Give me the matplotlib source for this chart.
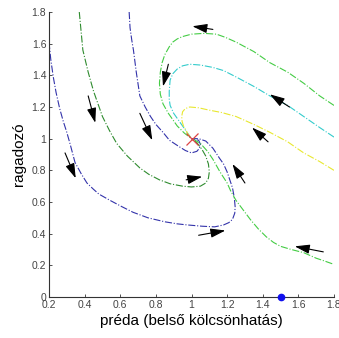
import matplotlib
matplotlib.use("Agg")
import matplotlib.pyplot as plt

plt.rcParams['font.family'] = ['Liberation Sans', 'DejaVu Sans']

# ---- data ----
blue1_x = [0.20, 0.21, 0.224, 0.24, 0.26, 0.28, 0.30, 0.32, 0.346, 0.38, 0.413, 0.45, 0.48, 0.543, 0.61, 0.672,
           0.756, 0.85, 0.92, 0.978, 1.06, 1.13, 1.18, 1.21, 1.23, 1.243, 1.245, 1.24, 1.23, 1.215, 1.20, 1.18,
           1.155, 1.12, 1.08, 1.04, 1.0]
blue1_y = [1.61, 1.50, 1.39, 1.29, 1.19, 1.11, 1.04, 0.96, 0.85, 0.78, 0.72, 0.68, 0.65, 0.61, 0.57, 0.535,
           0.50, 0.475, 0.462, 0.455, 0.447, 0.443, 0.455, 0.47, 0.49, 0.53, 0.57, 0.63, 0.69, 0.74, 0.79, 0.84,
           0.88, 0.94, 0.985, 1.0, 1.0]

blue2_x = [0.65, 0.655, 0.665, 0.674, 0.69, 0.71, 0.74, 0.77, 0.80, 0.84, 0.876, 0.93, 0.966, 1.0, 1.03,
           1.045, 1.05, 1.04, 1.0]
blue2_y = [1.80, 1.70, 1.62, 1.56, 1.42, 1.27, 1.20, 1.14, 1.09, 1.04, 0.99, 0.95, 0.925, 0.91, 0.92,
           0.94, 0.965, 0.99, 1.0]

green1_x = [0.37, 0.38, 0.39, 0.405, 0.42, 0.45, 0.50, 0.54, 0.58, 0.64, 0.71, 0.76, 0.82, 0.88, 0.95,
            1.0, 1.05, 1.08, 1.095, 1.10, 1.095, 1.08, 1.06, 1.03, 1.0]
green1_y = [1.80, 1.68, 1.56, 1.49, 1.42, 1.30, 1.14, 1.05, 0.97, 0.89, 0.815, 0.775, 0.74, 0.715, 0.70,
            0.695, 0.70, 0.72, 0.75, 0.79, 0.84, 0.89, 0.93, 0.975, 1.0]

lime1_x = [1.80, 1.72, 1.63, 1.54, 1.44, 1.35, 1.25, 1.19, 1.14, 1.07, 1.0, 0.95, 0.92, 0.895, 0.875, 0.85,
           0.835, 0.825, 0.82, 0.825, 0.84, 0.87, 0.92, 0.96, 1.0]
lime1_y = [1.21, 1.27, 1.35, 1.42, 1.48, 1.55, 1.61, 1.64, 1.66, 1.665, 1.66, 1.645, 1.63, 1.61, 1.58, 1.53,
           1.48, 1.42, 1.35, 1.28, 1.22, 1.16, 1.08, 1.035, 1.0]

lime2_x = [1.79, 1.74, 1.70, 1.63, 1.56, 1.50, 1.46, 1.42, 1.375, 1.33, 1.29, 1.25, 1.22, 1.20, 1.16, 1.12,
           1.09, 1.05, 1.02, 1.0]
lime2_y = [0.21, 0.23, 0.245, 0.28, 0.30, 0.32, 0.345, 0.38, 0.43, 0.49, 0.55, 0.61, 0.67, 0.72, 0.79, 0.87,
           0.92, 0.97, 0.99, 1.0]

cyan_x = [1.80, 1.72, 1.63, 1.54, 1.44, 1.35, 1.25, 1.18, 1.12, 1.05, 0.99, 0.95, 0.92, 0.895, 0.88, 0.875,
          0.875, 0.88, 0.90, 0.925, 0.95, 0.975, 1.0]
cyan_y = [1.01, 1.07, 1.14, 1.21, 1.27, 1.33, 1.39, 1.43, 1.45, 1.465, 1.47, 1.46, 1.44, 1.41, 1.37, 1.30,
          1.25, 1.21, 1.16, 1.12, 1.08, 1.04, 1.0]

yellow_x = [1.80, 1.72, 1.63, 1.54, 1.44, 1.35, 1.25, 1.17, 1.10, 1.04, 0.99, 0.965, 0.95, 0.945, 0.947,
            0.955, 0.965, 0.98, 1.0]
yellow_y = [0.80, 0.855, 0.91, 0.98, 1.04, 1.09, 1.14, 1.165, 1.18, 1.195, 1.20, 1.19, 1.17, 1.14, 1.11,
            1.08, 1.06, 1.03, 1.0]

# arrows: (tail_x, tail_y, head_x, head_y)
arrows = [
    (0.42, 1.27, 0.46, 1.10),
    (0.71, 1.16, 0.78, 0.99),
    (0.87, 1.47, 0.84, 1.33),
    (0.29, 0.91, 0.35, 0.75),
    (1.12, 1.69, 1.005, 1.71),
    (1.55, 1.20, 1.44, 1.28),
    (1.43, 0.98, 1.34, 1.07),
    (0.97, 0.74, 1.06, 0.76),
    (1.30, 0.72, 1.23, 0.84),
    (1.04, 0.39, 1.19, 0.42),
    (1.74, 0.285, 1.58, 0.32),
]

eq_x, eq_y = 1.0, 1.0
eq2_x, eq2_y = 1.5, 0.0

x_ticks = [0.2, 0.4, 0.6, 0.8, 1.0, 1.2, 1.4, 1.6, 1.8]
x_ticklabels = ['0.2', '0.4', '0.6', '0.8', '1', '1.2', '1.4', '1.6', '1.8']
y_ticks = [0, 0.2, 0.4, 0.6, 0.8, 1.0, 1.2, 1.4, 1.6, 1.8]
y_ticklabels = ['0', '0.2', '0.4', '0.6', '0.8', '1', '1.2', '1.4', '1.6', '1.8']

# ---- figure ----
fig = plt.figure(figsize=(3.39, 3.38), dpi=100)
ax = fig.add_axes([49/339, 1-297/338, 285/339, 285/338])

lw = 0.8
ax.plot(blue1_x, blue1_y, '-.', color='#3333aa', lw=lw)
ax.plot(blue2_x, blue2_y, '-.', color='#3333aa', lw=lw)
ax.plot(green1_x, green1_y, '-.', color='#2e8b2e', lw=lw)
ax.plot(lime1_x, lime1_y, '-.', color='#44cc44', lw=lw)
ax.plot(lime2_x, lime2_y, '-.', color='#44cc44', lw=lw)
ax.plot(cyan_x, cyan_y, '-.', color='#33cccc', lw=lw)
ax.plot(yellow_x, yellow_y, '-.', color='#e8e830', lw=lw)

for tx, ty, hx, hy in arrows:
    ax.annotate('', xy=(hx, hy), xytext=(tx, ty),
                arrowprops=dict(arrowstyle='-|>,head_length=0.9,head_width=0.28',
                                color='black', lw=0.8, shrinkA=0, shrinkB=0))

ax.plot([eq_x], [eq_y], 'x', color='#dd4444', ms=9, mew=0.9)
ax.plot([eq2_x], [eq2_y], 'o', color='#1010ee', ms=4.5, clip_on=False, zorder=5)

ax.set_xlim(0.2, 1.8)
ax.set_ylim(0, 1.8)
ax.set_xticks(x_ticks)
ax.set_xticklabels(x_ticklabels)
ax.set_yticks(y_ticks)
ax.set_yticklabels(y_ticklabels)
ax.spines['top'].set_visible(False)
ax.spines['right'].set_visible(False)
for s in ('left', 'bottom'):
    ax.spines[s].set_color('#333333')
    ax.spines[s].set_linewidth(0.8)
ax.tick_params(direction='in', length=2.5, width=0.6, colors='#333333', labelsize=7.5, pad=2)
ax.tick_params(axis='both', labelcolor='#444444')

ax.set_xlabel('préda (belső kölcsönhatás)', fontsize=11, labelpad=3)
ax.set_ylabel('ragadozó', fontsize=11, labelpad=4)

fig.savefig('out.png', dpi=100)
